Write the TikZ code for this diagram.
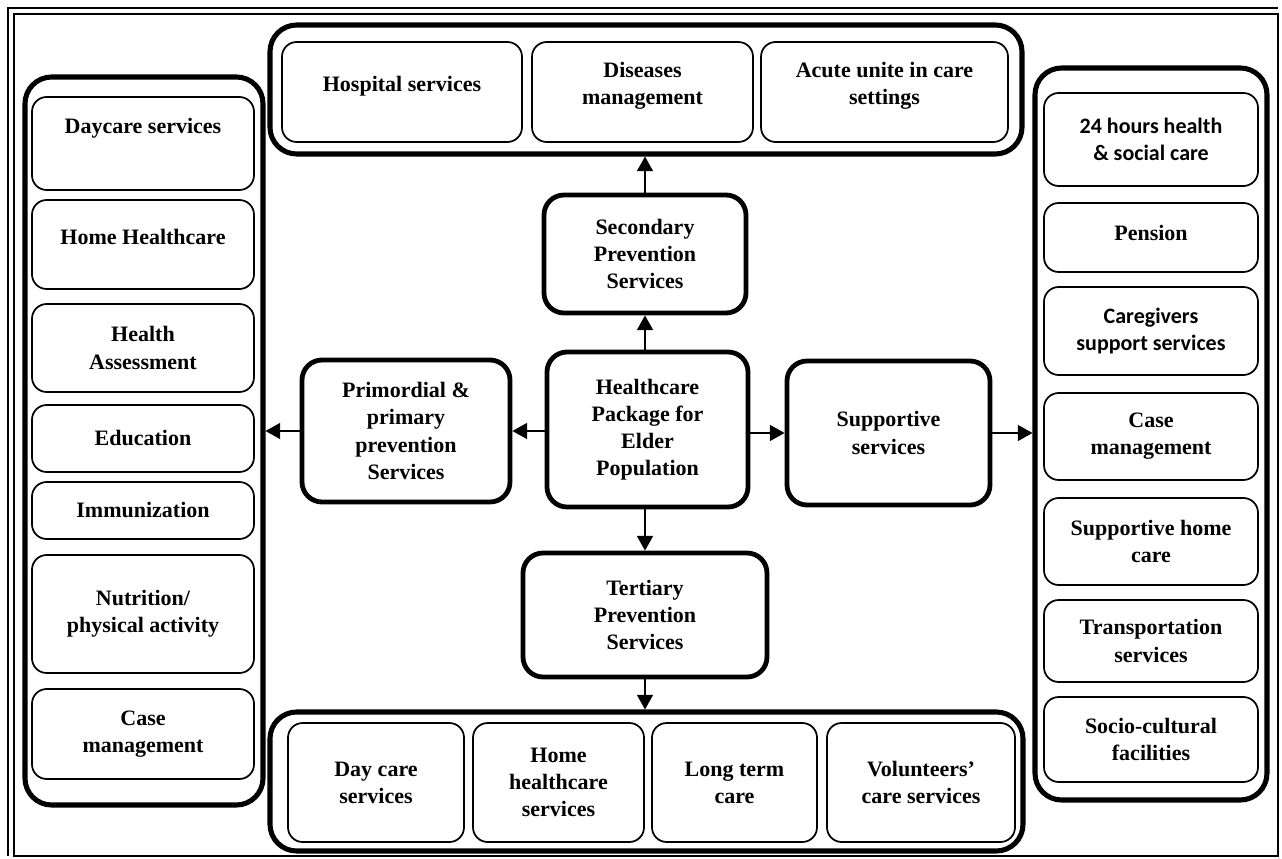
\documentclass[tikz,border=0pt]{standalone}
\usepackage{fontspec}
\setmainfont{Liberation Serif}
\newfontfamily\calfont{Carlito}
\usetikzlibrary{arrows.meta}

\begin{document}
\begin{tikzpicture}[x=0.75pt,y=-0.75pt,
  every node/.style={draw,align=center,inner sep=2pt,font=\bfseries\fontsize{16.5}{20.3}\selectfont},
  cal/.style={font=\calfont\bfseries\fontsize{16.5}{20.3}\selectfont},
  grp/.style 2 args={rounded corners=20pt,line width=3.8pt,minimum width=#1*0.75pt,minimum height=#2*0.75pt},
  mid/.style 2 args={rounded corners=15pt,line width=3.6pt,minimum width=#1*0.75pt,minimum height=#2*0.75pt},
  sub/.style 2 args={rounded corners=11pt,line width=1.3pt,minimum width=#1*0.75pt,minimum height=#2*0.75pt},
  arr/.style={line width=1.1pt,-{Triangle[length=11pt,width=12pt]}}]
\useasboundingbox (0,0) rectangle (1282,859);

% page frame
\draw[line width=2pt] (8,856)--(8,8)--(1278,8);
\draw[line width=0.9pt] (14,14) rectangle (1278,856);

% outer groups
\node[grp={752}{129}] (top) at (646,89.5) {};
\node[grp={238}{728}] (left) at (144,441) {};
\node[grp={232}{732}] (right) at (1151,434) {};
\node[grp={753}{139}] (bot) at (646.5,781.5) {};

% centre
\node[mid={201}{155}] (pkg) at (647.5,429.5) {Healthcare\\Package for\\Elder\\Population};
\node[mid={202}{118}] (sec) at (645,254) {Secondary\\Prevention\\Services};
\node[mid={208}{142}] (prim) at (406,431) {Primordial \&\\primary\\prevention\\Services};
\node[mid={203}{144}] (supp) at (888.5,433) {Supportive\\services};
\node[mid={244}{124}] (tert) at (645,615) {Tertiary\\Prevention\\Services};

% top row
\node[sub={240}{100},text depth=12.6pt] (hosp) at (402,92) {Hospital services};
\node[sub={221}{100},text depth=12.6pt] (dis) at (642.5,92) {Diseases\\management};
\node[sub={247}{100},text depth=12.6pt] (acute) at (884.5,92) {Acute unite in care\\settings};

% left column
\node[sub={222}{93},text depth=26pt] (day) at (143,143.5) {Daycare services};
\node[sub={222}{89},text depth=12pt] (home) at (143,244.5) {Home Healthcare};
\node[sub={222}{88}] (assess) at (143,348) {Health\\Assessment};
\node[sub={222}{67}] (edu) at (143,438.5) {Education};
\node[sub={222}{57}] (immu) at (143,510.5) {Immunization};
\node[sub={222}{118}] (nutr) at (143,614) {Nutrition/\\physical activity};
\node[sub={222}{90}] (casel) at (143,734) {Case\\management};

% right column
\node[sub={214}{93},cal] (care24) at (1151,139.5) {24 hours health\\\& social care};
\node[sub={214}{69},text depth=7.5pt] (pens) at (1151,237.5) {Pension};
\node[sub={214}{88},cal] (giver) at (1151,331) {Caregivers\\support services};
\node[sub={214}{87}] (caser) at (1151,436.5) {Case\\management};
\node[sub={214}{87}] (shome) at (1151,541.5) {Supportive home\\care};
\node[sub={214}{82}] (trans) at (1151,641) {Transportation\\services};
\node[sub={214}{85}] (socio) at (1151,739.5) {Socio-cultural\\facilities};

% bottom row
\node[sub={176}{119}] (dayc) at (376,782.5) {Day care\\services};
\node[sub={171}{119}] (homeh) at (558.5,782.5) {Home\\healthcare\\services};
\node[sub={165}{119}] (longt) at (734.5,782.5) {Long term\\care};
\node[sub={188}{119}] (volun) at (921,782.5) {Volunteers’\\care services};

% arrows
\draw[arr] (pkg.north -| sec.south) -- (sec.south);
\draw[arr] (sec.north) -- (sec.north |- top.south);
\draw[arr] (pkg.west |- prim.east) -- (prim.east);
\draw[arr] (prim.west) -- (prim.west -| left.east);
\draw[arr] (pkg.east |- supp.west) -- (supp.west);
\draw[arr] (supp.east) -- (supp.east -| right.west);
\draw[arr] (tert.north |- pkg.south) -- (tert.north);
\draw[arr] (tert.south) -- (tert.south |- bot.north);
\end{tikzpicture}
\end{document}
